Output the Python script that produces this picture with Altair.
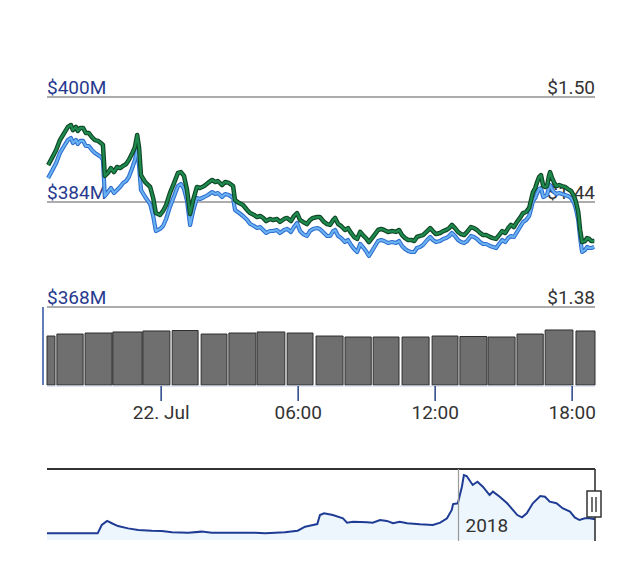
import altair as alt
import pandas as pd

# ---------------- data ----------------
# minutes after 21 Jul 2018 19:00
minutes = [3, 13, 24, 34, 45, 55, 63, 68, 76, 81, 87, 95, 102, 110, 118, 126, 134, 142, 147, 152,
           160, 168, 176, 184, 192, 200, 208, 215, 223, 231, 237, 242, 247, 258, 271, 279, 286, 297, 305, 313,
           323, 334, 344, 352, 360, 368, 376, 384, 394, 402, 413, 423, 434, 442, 449, 460, 468, 478, 489, 494,
           505, 515, 526, 534, 544, 552, 560, 568, 576, 586, 594, 604, 612, 623, 631, 641, 649, 657, 665, 673,
           683, 691, 699, 710, 717, 728, 736, 744, 752, 757, 765, 773, 783, 791, 799, 807, 815, 823, 830, 838,
           846, 854, 862, 870, 878, 886, 896, 907, 917, 925, 933, 941, 949, 957, 965, 972, 980, 988, 999, 1007,
           1014, 1022, 1033, 1041, 1049, 1057, 1064, 1072, 1080, 1088, 1096, 1104, 1114, 1122, 1130, 1138, 1146, 1154, 1164, 1172,
           1180, 1188, 1196, 1204, 1212, 1219, 1227, 1235, 1243, 1251, 1259, 1267, 1272, 1277, 1283, 1288, 1293, 1298, 1304, 1309,
           1314, 1319, 1322, 1327, 1332, 1338, 1346, 1353, 1361, 1369, 1377, 1385, 1390, 1396, 1401, 1406, 1414, 1419, 1425, 1430,
           1438]

price_usd = [1.4611, 1.4651, 1.4697, 1.4754, 1.4794, 1.4829, 1.4840, 1.4811, 1.4829, 1.4806,
             1.4823, 1.4823, 1.4794, 1.4794, 1.4771, 1.4754, 1.4749, 1.4737, 1.4726, 1.4549,
             1.4566, 1.4594, 1.4571, 1.4600, 1.4594, 1.4606, 1.4617, 1.4640, 1.4674, 1.4714,
             1.4783, 1.4709, 1.4554, 1.4514, 1.4486, 1.4423, 1.4337, 1.4326, 1.4349, 1.4383,
             1.4451, 1.4509, 1.4566, 1.4571, 1.4549, 1.4469, 1.4331, 1.4411, 1.4486, 1.4480,
             1.4491, 1.4509, 1.4526, 1.4514, 1.4520, 1.4497, 1.4514, 1.4509, 1.4491, 1.4411,
             1.4394, 1.4383, 1.4354, 1.4337, 1.4326, 1.4314, 1.4320, 1.4309, 1.4291, 1.4303,
             1.4297, 1.4303, 1.4286, 1.4303, 1.4309, 1.4291, 1.4320, 1.4337, 1.4297, 1.4286,
             1.4274, 1.4297, 1.4309, 1.4314, 1.4314, 1.4286, 1.4274, 1.4269, 1.4297, 1.4309,
             1.4274, 1.4263, 1.4240, 1.4251, 1.4223, 1.4200, 1.4189, 1.4229, 1.4211, 1.4194,
             1.4171, 1.4194, 1.4217, 1.4240, 1.4246, 1.4240, 1.4229, 1.4234, 1.4229, 1.4240,
             1.4211, 1.4194, 1.4183, 1.4183, 1.4177, 1.4200, 1.4206, 1.4211, 1.4234, 1.4251,
             1.4234, 1.4217, 1.4223, 1.4234, 1.4240, 1.4251, 1.4269, 1.4251, 1.4229, 1.4217,
             1.4211, 1.4229, 1.4257, 1.4251, 1.4240, 1.4223, 1.4211, 1.4211, 1.4200, 1.4194,
             1.4189, 1.4211, 1.4234, 1.4223, 1.4251, 1.4269, 1.4257, 1.4286, 1.4309, 1.4337,
             1.4343, 1.4366, 1.4411, 1.4457, 1.4480, 1.4514, 1.4543, 1.4554, 1.4491, 1.4486,
             1.4491, 1.4549, 1.4571, 1.4537, 1.4514, 1.4491, 1.4497, 1.4491, 1.4486, 1.4474,
             1.4463, 1.4434, 1.4400, 1.4343, 1.4240, 1.4171, 1.4177, 1.4194, 1.4189, 1.4177,
             1.4177]

market_cap_musd = [387.66, 388.72, 389.94, 391.47, 392.53, 393.45, 393.75, 392.99, 393.45, 392.84,
                   393.30, 393.30, 392.53, 392.53, 391.92, 391.47, 391.16, 390.86, 390.40, 384.91,
                   385.52, 386.13, 385.37, 385.83, 386.29, 386.90, 387.20, 387.81, 389.03, 390.40,
                   391.92, 389.49, 385.83, 384.76, 383.70, 381.87, 379.58, 379.89, 380.34, 381.41,
                   383.24, 384.91, 386.44, 386.74, 385.98, 384.15, 380.50, 382.63, 384.61, 384.46,
                   384.76, 385.07, 385.52, 385.22, 385.37, 384.76, 385.22, 385.07, 384.61, 382.78,
                   382.32, 381.87, 381.26, 380.65, 380.34, 380.04, 380.19, 379.73, 379.28, 379.58,
                   379.58, 379.73, 379.28, 379.73, 379.89, 379.43, 380.19, 380.80, 379.58, 379.12,
                   378.82, 379.58, 379.89, 380.04, 379.89, 379.28, 378.82, 378.82, 379.58, 379.73,
                   378.82, 378.51, 377.90, 378.21, 377.45, 376.84, 376.38, 377.60, 377.14, 376.53,
                   375.77, 376.53, 377.30, 378.06, 378.21, 378.06, 377.75, 377.90, 377.75, 378.06,
                   377.30, 376.84, 376.53, 376.38, 376.38, 376.99, 377.14, 377.45, 378.21, 378.67,
                   378.21, 377.90, 378.06, 378.36, 378.51, 378.82, 379.28, 378.82, 378.21, 377.90,
                   377.75, 378.06, 378.82, 378.67, 378.36, 377.90, 377.60, 377.60, 377.30, 377.14,
                   376.99, 377.60, 378.21, 377.90, 378.51, 378.82, 378.67, 379.43, 380.19, 380.95,
                   381.26, 381.87, 382.93, 384.15, 384.61, 385.37, 385.98, 386.13, 384.76, 384.91,
                   385.07, 386.29, 386.59, 385.98, 385.52, 385.22, 385.37, 385.22, 385.07, 384.91,
                   384.61, 383.85, 382.93, 381.26, 378.51, 376.38, 376.69, 377.14, 376.99, 376.99,
                   377.14]

# volume blocks (minutes after 21 Jul 19:00) and heights (arbitrary units)
vol_start_min = [0, 26, 100, 173, 252, 329, 405, 478, 552, 631, 707, 783, 857, 933, 1012, 1085, 1159, 1235, 1309, 1390]
vol_end_min = [21, 95, 171, 250, 323, 397, 473, 549, 625, 699, 778, 852, 925, 1004, 1080, 1156, 1230, 1304, 1382, 1440]
vol_values = [9.33, 9.71, 9.90, 10.10, 10.29, 10.38, 9.71, 9.90, 10.10, 9.90,
              9.33, 9.14, 9.14, 9.14, 9.33, 9.24, 9.14, 9.71, 10.48, 10.29]

# navigator (whole history)
nav_dates = ["2016-05-02", "2016-07-16", "2016-07-22", "2016-07-30", "2016-08-06", "2016-08-15", "2016-08-30",
             "2016-09-14", "2016-10-04", "2016-10-19", "2016-11-03", "2016-11-27", "2016-12-17",
             "2017-01-01", "2017-01-31", "2017-03-06", "2017-03-21", "2017-04-19", "2017-05-08", "2017-05-19",
             "2017-05-29", "2017-06-06", "2017-06-10", "2017-06-16", "2017-06-29", "2017-07-14", "2017-07-20",
             "2017-07-29", "2017-08-19", "2017-08-27", "2017-09-07", "2017-09-17", "2017-09-26", "2017-10-06",
             "2017-10-17", "2017-11-05", "2017-11-24", "2017-12-05", "2017-12-15", "2017-12-22", "2017-12-24",
             "2017-12-31",
             "2018-01-06", "2018-01-09", "2018-01-13", "2018-01-22", "2018-01-29", "2018-02-06", "2018-02-16",
             "2018-02-21", "2018-03-03", "2018-03-14", "2018-03-29", "2018-04-05", "2018-04-12", "2018-04-21",
             "2018-05-02", "2018-05-09", "2018-05-16", "2018-05-26", "2018-06-04", "2018-06-15", "2018-06-22",
             "2018-06-29", "2018-07-07", "2018-07-14", "2018-07-22"]
nav_values = [0.43, 0.43, 0.97, 1.23, 1.08, 0.90, 0.75, 0.65, 0.60, 0.58, 0.50, 0.47, 0.54,
              0.47, 0.47, 0.47, 0.43, 0.50, 0.60, 0.86, 0.95, 1.03, 1.61, 1.72, 1.61, 1.40, 1.12,
              1.18, 1.14, 1.12, 1.29, 1.23, 1.08, 1.18, 1.08, 1.01, 0.97, 1.12, 1.40, 1.94, 2.32,
              2.37,
              3.44, 4.19, 4.13, 3.55, 3.76, 3.44, 2.90, 3.12, 2.79, 2.37, 1.61, 1.46, 1.72, 2.37,
              2.84, 2.79, 2.47, 2.37, 2.05, 1.83, 1.46, 1.29, 1.40, 1.40, 1.34]

tick_times = ["2018-07-22T00:00:00", "2018-07-22T06:00:00", "2018-07-22T12:00:00", "2018-07-22T18:00:00"]
tick_labels = ["22. Jul", "06:00", "12:00", "18:00"]

mcap_ticks = [368, 384, 400]
mcap_labels = ["$368M", "$384M", "$400M"]
price_ticks = [1.38, 1.44, 1.50]
price_labels = ["$1.38", "$1.44", "$1.50"]

year_dates = ["2018-01-01"]
year_labels = ["2018"]

# ---------------- tables ----------------
start = pd.Timestamp("2018-07-21 19:00")


def stamp(mins):
    return [(start + pd.Timedelta(minutes=m)).strftime("%Y-%m-%dT%H:%M:%S") for m in mins]


lines_df = pd.DataFrame({"t": stamp(minutes), "price": price_usd, "mcap": market_cap_musd})
vol_df = pd.DataFrame({"s": stamp(vol_start_min), "e": stamp(vol_end_min), "vol": vol_values})
nav_df = pd.DataFrame({"d": [d + "T00:00:00" for d in nav_dates], "v": nav_values})
tick_df = pd.DataFrame({"t": tick_times, "label": tick_labels})
mcap_df = pd.DataFrame({"v": mcap_ticks, "label": mcap_labels})
price_df = pd.DataFrame({"v": price_ticks, "label": price_labels})
year_df = pd.DataFrame({"d": [d + "T00:00:00" for d in year_dates], "label": year_labels})
one = pd.DataFrame({"a": [0]})

FONT = "Roboto"
W, H = 548, 443

t_scale = alt.Scale(domain=[alt.DateTime(year=2018, month=7, date=21, hours=19),
                            alt.DateTime(year=2018, month=7, date=22, hours=19)])
nav_x_scale = alt.Scale(domain=[alt.DateTime(year=2016, month=5, date=2),
                                alt.DateTime(year=2018, month=7, date=22)])
price_scale = alt.Scale(domain=[1.38, 1.50], range=[210, 0])
mcap_scale = alt.Scale(domain=[368, 400], range=[210, 0])
vol_scale = alt.Scale(domain=[0, 12], range=[288, 225])
nav_y_scale = alt.Scale(domain=[0, 4.58], range=[443, 372])

# grid lines
grid = alt.Chart(price_df).mark_rule(color="#909090", strokeWidth=1.6).encode(
    y=alt.Y("v:Q", scale=price_scale, axis=None),
    x=alt.value(0), x2=alt.value(W))

left_labels = alt.Chart(mcap_df).mark_text(
    align="left", baseline="alphabetic", dy=-3, font=FONT, fontSize=19, color="#283a8e").encode(
    y=alt.Y("v:Q", scale=mcap_scale, axis=None), x=alt.value(0), text="label:N")

right_labels = alt.Chart(price_df).mark_text(
    align="right", baseline="alphabetic", dy=-3, font=FONT, fontSize=19, color="#333333").encode(
    y=alt.Y("v:Q", scale=price_scale, axis=None), x=alt.value(W), text="label:N")

base_lines = alt.Chart(lines_df)
x_t = alt.X("t:T", scale=t_scale, axis=None)

mcap_outer = base_lines.mark_line(color="#2f6fd0", strokeWidth=4.2, strokeJoin="round").encode(
    x=x_t, y=alt.Y("mcap:Q", scale=mcap_scale, axis=None))
mcap_inner = base_lines.mark_line(color="#6bb2f2", strokeWidth=2, strokeJoin="round").encode(
    x=x_t, y=alt.Y("mcap:Q", scale=mcap_scale, axis=None))
price_outer = base_lines.mark_line(color="#0f4526", strokeWidth=4.5, strokeJoin="round").encode(
    x=x_t, y=alt.Y("price:Q", scale=price_scale, axis=None))
price_inner = base_lines.mark_line(color="#1f8a4e", strokeWidth=2.3, strokeJoin="round").encode(
    x=x_t, y=alt.Y("price:Q", scale=price_scale, axis=None))

vol_bars = alt.Chart(vol_df).mark_bar(fill="#6f6f6f", stroke="#2e2e2e", strokeWidth=1).encode(
    x=alt.X("s:T", scale=t_scale, axis=None), x2="e:T",
    y=alt.Y("vol:Q", scale=vol_scale, axis=None), y2=alt.datum(0))

axis_line = alt.Chart(one).mark_rule(color="#c4d0e4", strokeWidth=1).encode(
    x=alt.value(0), x2=alt.value(W), y=alt.value(289))

ticks = alt.Chart(tick_df).mark_rule(color="#33508f", strokeWidth=1.6).encode(
    x=alt.X("t:T", scale=t_scale, axis=None), y=alt.value(289), y2=alt.value(304))

tick_text = alt.Chart(tick_df).mark_text(
    align="center", baseline="alphabetic", font=FONT, fontSize=19, color="#333333").encode(
    x=alt.X("t:T", scale=t_scale, axis=None), y=alt.value(322), text="label:N")

left_marker = alt.Chart(one).mark_rule(color="#3a5cab", strokeWidth=1.6).encode(
    x=alt.value(-4), y=alt.value(210), y2=alt.value(288))

nav_area = alt.Chart(nav_df).mark_area(
    color="#e6f2fb", line={"color": "#1f3c94", "strokeWidth": 2}).encode(
    x=alt.X("d:T", scale=nav_x_scale, axis=None),
    y=alt.Y("v:Q", scale=nav_y_scale, axis=None))

nav_top = alt.Chart(one).mark_rule(color="#333333", strokeWidth=2).encode(
    x=alt.value(0), x2=alt.value(W), y=alt.value(372))

year_rule = alt.Chart(year_df).mark_rule(color="#9a9a9a", strokeWidth=1.2).encode(
    x=alt.X("d:T", scale=nav_x_scale, axis=None), y=alt.value(372), y2=alt.value(444))

year_text = alt.Chart(year_df).mark_text(
    align="left", baseline="alphabetic", dx=7, font=FONT, fontSize=19, color="#333333").encode(
    x=alt.X("d:T", scale=nav_x_scale, axis=None), y=alt.value(435), text="label:N")

nav_right = alt.Chart(one).mark_rule(color="#333333", strokeWidth=1.6).encode(
    x=alt.value(W), y=alt.value(372), y2=alt.value(444))

handle = alt.Chart(one).mark_rect(fill="white", stroke="#333333", strokeWidth=1.5).encode(
    x=alt.value(540), x2=alt.value(554), y=alt.value(394), y2=alt.value(420))
handle_l1 = alt.Chart(one).mark_rule(color="#333333", strokeWidth=1.4).encode(
    x=alt.value(545), y=alt.value(400), y2=alt.value(415))
handle_l2 = alt.Chart(one).mark_rule(color="#333333", strokeWidth=1.4).encode(
    x=alt.value(549), y=alt.value(400), y2=alt.value(415))

chart = alt.layer(
    grid, left_labels, right_labels,
    mcap_outer, mcap_inner, price_outer, price_inner,
    vol_bars, axis_line, ticks, tick_text, left_marker,
    nav_area, nav_top, year_rule, year_text, nav_right,
    handle, handle_l1, handle_l2,
).resolve_scale(x="independent", y="independent").properties(
    width=W, height=H,
    autosize=alt.AutoSizeParams(type="none"),
    padding={"left": 47, "top": 97, "right": 45, "bottom": 25},
    background="white",
).configure_view(stroke=None)

chart.save("out.html", embed_options={"renderer": "svg", "actions": False})
